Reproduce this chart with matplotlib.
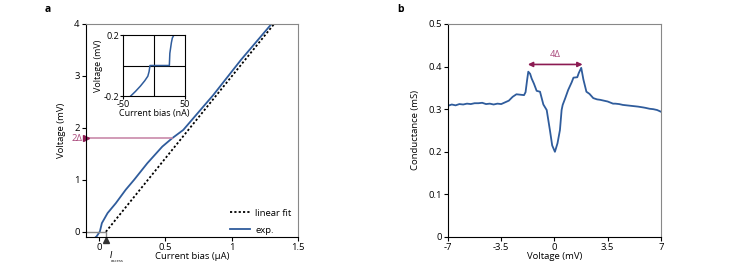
import matplotlib
matplotlib.use("Agg")
import matplotlib.pyplot as plt

plt.rcParams['font.family'] = ['Open Sans', 'DejaVu Sans']
plt.rcParams['font.size'] = 6.8
plt.rcParams['axes.linewidth'] = 0.8

blue = '#2f5c9c'
maroon = '#8c1a52'
pink = '#c98aaa'

# panel a: V-I curve
bias_exp = [-0.025, -0.02, 0.005, 0.02, 0.063, 0.125, 0.2, 0.263, 0.363, 0.476, 0.55, 0.634, 0.86, 1.07, 1.30]
volt_exp = [-0.1, -0.09, 0.006, 0.167, 0.36, 0.55, 0.81, 1.0, 1.32, 1.64, 1.8, 1.96, 2.63, 3.31, 4.0]
i_excess = 0.05
fit_slope = 3.15
fit_bias = [0.05, 1.32]
two_delta = 1.8

# inset: low bias
bias_in = [-37.6, -30, -22, -15, -10, -8, -6.5, 0, 10, 20, 24.7, 25.5, 28, 29.5, 32]
volt_in = [-0.2, -0.17, -0.135, -0.1, -0.07, -0.04, 0.0, 0.0, 0.0, 0.0, 0.0, 0.08, 0.15, 0.18, 0.2]

# panel b: conductance
volt_b = [-7.0, -6.75, -6.5, -6.25, -6.0, -5.75, -5.5, -5.25, -5.0, -4.75, -4.5, -4.25, -4.0,
          -3.75, -3.5, -3.25, -3.0, -2.75, -2.5, -2.25, -2.0, -1.9, -1.8, -1.72, -1.6, -1.5,
          -1.35, -1.17, -0.95, -0.73, -0.51, -0.3, -0.15, 0.03, 0.2, 0.36, 0.47, 0.54, 0.7,
          0.9, 1.13, 1.25, 1.5, 1.6, 1.76, 1.9, 2.1, 2.3, 2.55, 2.8, 3.0, 3.25, 3.5, 3.85,
          4.0, 4.25, 4.5, 4.75, 5.0, 5.25, 5.5, 5.85, 6.0, 6.25, 6.5, 6.75, 7.0]
cond_b = [0.308, 0.311, 0.309, 0.312, 0.311, 0.313, 0.312, 0.314, 0.314, 0.315, 0.312, 0.313, 0.311,
          0.313, 0.312, 0.316, 0.320, 0.329, 0.335, 0.334, 0.333, 0.340, 0.368, 0.388, 0.383, 0.372,
          0.360, 0.343, 0.341, 0.311, 0.298, 0.251, 0.215, 0.200, 0.220, 0.251, 0.298, 0.310, 0.325,
          0.345, 0.363, 0.374, 0.375, 0.385, 0.397, 0.370, 0.341, 0.336, 0.326, 0.323, 0.322, 0.320, 0.318, 0.313,
          0.313, 0.312, 0.310, 0.309, 0.308, 0.307, 0.306, 0.304, 0.303, 0.301, 0.300, 0.298, 0.294]

fig = plt.figure(figsize=(7.47, 2.67), dpi=100)

ax = fig.add_axes([0.1151, 0.1124, 0.2838, 0.7978])
ax.plot(fit_bias, [fit_slope * (b - i_excess) for b in fit_bias],
        color='black', ls=(0, (1.2, 1.2)), lw=1.3, label='linear fit')
ax.plot(bias_exp, volt_exp, color=blue, lw=1.3, label='exp.')
ax.set_xlim(-0.1, 1.5)
ax.set_ylim(-0.1, 4)
ax.set_xticks([0, 0.5, 1, 1.5])
ax.set_xticklabels(['0', '0.5', '1', '1.5'])
ax.set_yticks([0, 1, 2, 3, 4])
ax.set_xlabel('Current bias (μA)', labelpad=0)
ax.set_ylabel('Voltage (mV)', labelpad=6)
ax.tick_params(direction='out', length=3, width=0.8, pad=1.5)
for s in ['top', 'right']:
    ax.spines[s].set_color('#888888')
# 2Δ marker
ax.plot([-0.1, 0.55], [two_delta, two_delta], color=pink, lw=1.2)
ax.plot([-0.1], [two_delta], marker='>', color=maroon, ms=4.5, clip_on=False)
ax.text(-0.125, two_delta, '2Δ', color='#a8477a', ha='right', va='center')
# I excess
ax.plot([-0.1, i_excess, i_excess], [0, 0, -0.1], color='#888888', lw=1.0)
ax.plot([i_excess], [-0.165], marker='^', color='#333333', ms=5, clip_on=False)
ax.text(i_excess + 0.025, -0.43, '$I$', fontsize=6, ha='left', va='center')
ax.text(i_excess + 0.04, -0.56, 'excess', fontsize=3, ha='left', va='center')
leg = ax.legend(loc='lower right', bbox_to_anchor=(1.0, -0.02), frameon=False,
                handlelength=2.2, handletextpad=0.5, labelspacing=0.85, borderaxespad=0.3)
fig.text(45 / 747, 1 - 10 / 267, 'a', fontweight='bold', fontsize=7.5, va='center')

# inset
ins = fig.add_axes([0.1647, 0.6404, 0.083, 0.2285])
ins.axhline(0, color='black', lw=0.8)
ins.axvline(0, color='black', lw=0.8)
ins.plot(bias_in, volt_in, color=blue, lw=1.1)
ins.set_xlim(-50, 50)
ins.set_ylim(-0.2, 0.2)
ins.set_xticks([-50, 50])
ins.set_yticks([-0.2, 0.2])
ins.set_yticklabels(['-0.2', '0.2'])
ins.set_xticklabels(['-50', '50'])
ins.tick_params(direction='out', length=2, width=0.8, pad=1, labelsize=6.5)
ins.set_xlabel('Current bias (nA)', fontsize=6.5, labelpad=0)
ins.set_ylabel('Voltage (mV)', fontsize=6.5, labelpad=0)

# panel b
bx = fig.add_axes([0.5997, 0.1124, 0.2851, 0.7978])
bx.plot(volt_b, cond_b, color=blue, lw=1.3)
bx.set_xlim(-7, 7)
bx.set_ylim(0, 0.5)
bx.set_xticks([-7, -3.5, 0, 3.5, 7])
bx.set_xticklabels(['-7', '-3.5', '0', '3.5', '7'])
bx.set_yticks([0, 0.1, 0.2, 0.3, 0.4, 0.5])
bx.set_yticklabels(['0', '0.1', '0.2', '0.3', '0.4', '0.5'])
bx.set_xlabel('Voltage (mV)', labelpad=0)
bx.set_ylabel('Conductance (mS)', labelpad=6)
bx.tick_params(direction='out', length=3, width=0.8, pad=1.5)
for s in ['top', 'right']:
    bx.spines[s].set_color('#888888')
bx.annotate('', xy=(-1.75, 0.405), xytext=(1.85, 0.405),
            arrowprops=dict(arrowstyle='<|-|>', color=maroon, lw=1.2,
                            mutation_scale=7, shrinkA=0, shrinkB=0))
bx.text(0.05, 0.428, '4Δ', color='#a8477a', ha='center', va='center')
fig.text(397 / 747, 1 - 10 / 267, 'b', fontweight='bold', fontsize=7.5, va='center')

fig.savefig('out.png', dpi=100)
